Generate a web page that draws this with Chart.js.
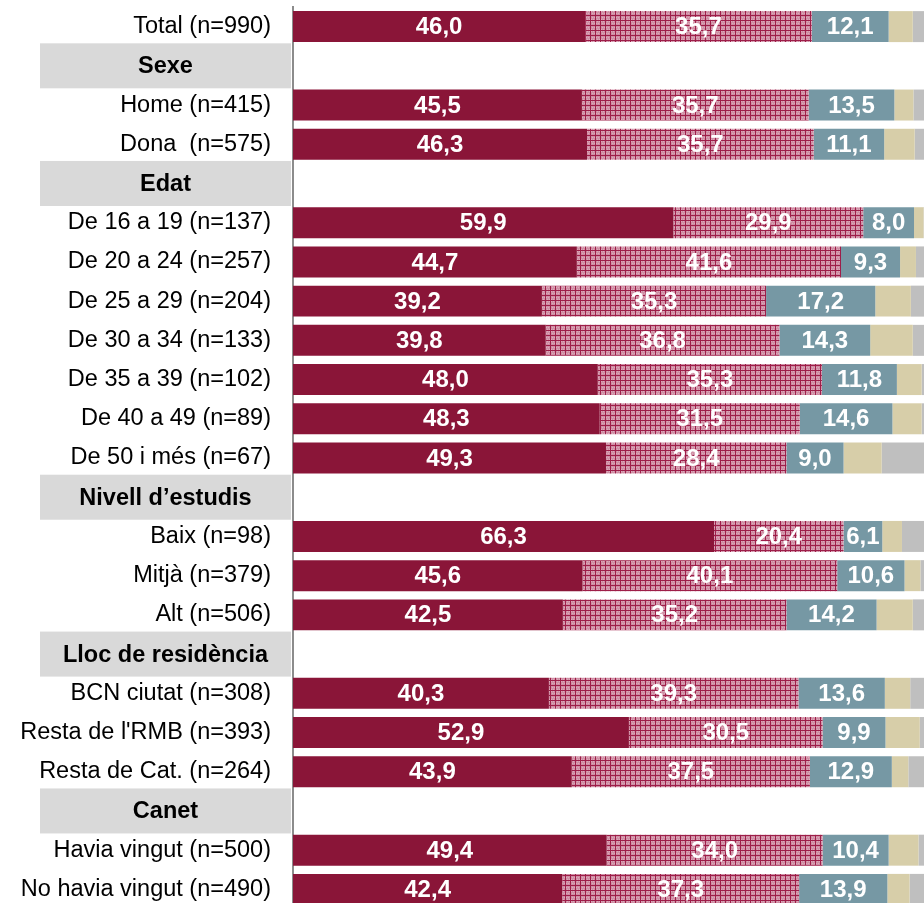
<!DOCTYPE html>
<html>
<head>
<meta charset="utf-8">
<script src="https://cdn.jsdelivr.net/npm/chart.js@4.4.1/dist/chart.umd.min.js"></script>
<style>
  html, body { margin: 0; padding: 0; background: #ffffff; overflow: hidden; width: 924px; height: 903px; }
  #wrap { position: absolute; left: 0; top: 0; width: 928px; height: 909px; }
</style>
</head>
<body>
<div id="wrap"><canvas id="c" width="928" height="909"></canvas></div>
<script>
const categories = ['Total (n=990)', 'Sexe', 'Home (n=415)', 'Dona  (n=575)', 'Edat',
  'De 16 a 19 (n=137)', 'De 20 a 24 (n=257)', 'De 25 a 29 (n=204)', 'De 30 a 34 (n=133)',
  'De 35 a 39 (n=102)', 'De 40 a 49 (n=89)', 'De 50 i més (n=67)', 'Nivell d’estudis',
  'Baix (n=98)', 'Mitjà (n=379)', 'Alt (n=506)', 'Lloc de residència',
  'BCN ciutat (n=308)', "Resta de l'RMB (n=393)", 'Resta de Cat. (n=264)', 'Canet',
  'Havia vingut (n=500)', 'No havia vingut (n=490)'];
const headers = ['Sexe', 'Edat', 'Nivell d’estudis', 'Lloc de residència', 'Canet'];

const serie1 = [46.0, null, 45.5, 46.3, null, 59.9, 44.7, 39.2, 39.8, 48.0, 48.3, 49.3, null, 66.3, 45.6, 42.5, null, 40.3, 52.9, 43.9, null, 49.4, 42.4];
const serie2 = [35.7, null, 35.7, 35.7, null, 29.9, 41.6, 35.3, 36.8, 35.3, 31.5, 28.4, null, 20.4, 40.1, 35.2, null, 39.3, 30.5, 37.5, null, 34.0, 37.3];
const serie3 = [12.1, null, 13.5, 11.1, null, 8.0, 9.3, 17.2, 14.3, 11.8, 14.6, 9.0, null, 6.1, 10.6, 14.2, null, 13.6, 9.9, 12.9, null, 10.4, 13.9];
const serie4 = [3.8, null, 3.0, 4.8, null, 1.5, 2.5, 5.6, 6.7, 3.9, 4.6, 6.0, null, 3.1, 2.5, 5.7, null, 4.0, 5.4, 2.6, null, 4.7, 3.5];
const serie5 = [2.4, null, 2.3, 2.1, null, 0.7, 1.9, 2.7, 2.4, 1.0, 1.0, 7.3, null, 4.1, 1.2, 2.4, null, 2.8, 1.3, 3.1, null, 1.5, 2.9];
const seriesNames = ['Sèrie 1', 'Sèrie 2', 'Sèrie 3', 'Sèrie 4', 'Sèrie 5'];

const FONT = '"Liberation Sans", Arial, Helvetica, sans-serif';

function makePattern() {
  const c = document.createElement('canvas');
  c.width = 10; c.height = 10;
  const g = c.getContext('2d');
  g.fillStyle = '#cf8ea4';
  g.fillRect(0, 0, 10, 10);
  g.fillStyle = '#dcaabb';
  for (let y = 1; y < 10; y += 2) for (let x = 1 + ((y >> 1) % 2); x < 10; x += 2) g.fillRect(x, y, 1, 1);
  g.fillStyle = '#9e1e49';
  g.fillRect(0, 0, 10, 1); g.fillRect(0, 5, 10, 1);
  g.fillRect(0, 0, 1, 10); g.fillRect(5, 0, 1, 10);
  return g.createPattern(c, 'repeat');
}

const isHeader = (i) => headers.includes(categories[i]);

const sectionPlugin = {
  id: 'sections',
  beforeDatasetsDraw(chart) {
    const ctx = chart.ctx;
    const y = chart.scales.y;
    ctx.save();
    categories.forEach((lab, i) => {
      if (!isHeader(i)) return;
      const py = y.getPixelForValue(i);
      ctx.fillStyle = '#d9d9d9';
      ctx.fillRect(40, py - 22.5, 251, 45);
      ctx.fillStyle = '#000000';
      ctx.font = 'bold 23.5px ' + FONT;
      ctx.textAlign = 'center';
      ctx.textBaseline = 'middle';
      ctx.fillText(lab, 165.5, py + 1);
    });
    ctx.restore();
  }
};

const valuePlugin = {
  id: 'values',
  afterDatasetsDraw(chart) {
    const ctx = chart.ctx;
    ctx.save();
    ctx.font = 'bold 24px ' + FONT;
    ctx.fillStyle = '#ffffff';
    ctx.textAlign = 'center';
    ctx.textBaseline = 'middle';
    [0, 1, 2].forEach(di => {
      const meta = chart.getDatasetMeta(di);
      meta.data.forEach((el, i) => {
        const v = chart.data.datasets[di].data[i];
        if (v === null || v === undefined) return;
        const p = el.getCenterPoint();
        ctx.fillText(v.toFixed(1).replace('.', ','), p.x, p.y + 1);
      });
    });
    ctx.restore();
  }
};

const common = { categoryPercentage: 0.79, barPercentage: 1.0, borderWidth: 0 };

new Chart(document.getElementById('c'), {
  type: 'bar',
  data: {
    labels: categories,
    datasets: [
      Object.assign({ label: seriesNames[0], data: serie1, backgroundColor: '#8a1538' }, common),
      Object.assign({ label: seriesNames[1], data: serie2, backgroundColor: makePattern() }, common),
      Object.assign({ label: seriesNames[2], data: serie3, backgroundColor: '#7698a4' }, common),
      Object.assign({ label: seriesNames[3], data: serie4, backgroundColor: '#d7cea9' }, common),
      Object.assign({ label: seriesNames[4], data: serie5, backgroundColor: '#bfbfbf' }, common)
    ]
  },
  options: {
    indexAxis: 'y',
    responsive: false,
    animation: false,
    devicePixelRatio: 1,
    layout: { padding: { top: 7, right: 0, bottom: 0, left: 0 } },
    plugins: { legend: { display: false }, tooltip: { enabled: false } },
    scales: {
      x: { stacked: true, min: 0, max: 100, display: false },
      y: {
        stacked: true,
        afterFit: (s) => { s.width = 293; s.paddingTop = 0; s.paddingBottom = 0; },
        grid: { display: true, color: 'rgba(0,0,0,0)', drawTicks: false },
        border: { display: true, color: '#8c8c8c', width: 2 },
        ticks: {
          autoSkip: false,
          padding: 22,
          font: { family: FONT, size: 23.5 },
          color: (ctx) => isHeader(ctx.index) ? 'rgba(0,0,0,0)' : '#000000'
        }
      }
    }
  },
  plugins: [sectionPlugin, valuePlugin]
});
</script>
</body>
</html>
